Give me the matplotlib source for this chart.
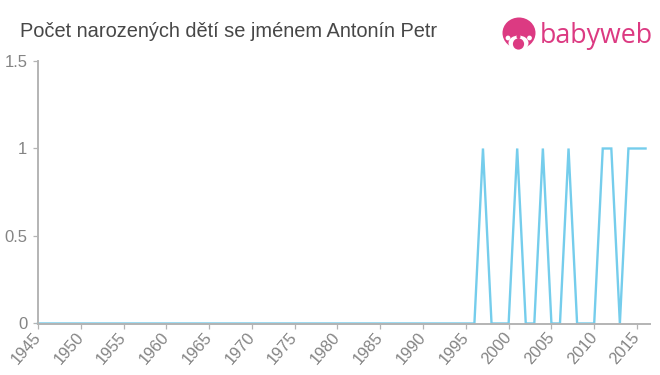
import matplotlib
matplotlib.use("Agg")
import matplotlib.pyplot as plt
from matplotlib.patches import Circle, Ellipse

years = list(range(1945, 2017))
nonzero_years = [1997, 2001, 2004, 2007, 2011, 2012, 2014, 2015, 2016]
counts = [1 if y in nonzero_years else 0 for y in years]
xticks = list(range(1945, 2016, 5))
yticks = [0, 0.5, 1, 1.5]
ylabels = ["0", "0.5", "1", "1.5"]
title = "Počet narozených dětí se jménem Antonín Petr"

plt.rcParams["font.family"] = ["Liberation Sans", "DejaVu Sans"]
W, H = 660, 375
fig = plt.figure(figsize=(W / 100, H / 100), dpi=100, facecolor="white")
L, R, T, B = 38, 650, 61, 324
ax = fig.add_axes([L / W, 1 - B / H, (R - L) / W, (B - T) / H])
ax.plot(years, counts, color="#75cdec", lw=1.7, solid_joinstyle="miter", clip_on=False, zorder=2)
ax.set_xlim(1945, 1945 + (R - L) / 8.557)
ax.set_ylim(-0.003, 1.5)
for s in ("top", "right"):
    ax.spines[s].set_visible(False)
for s in ("left", "bottom"):
    ax.spines[s].set_color("#b4b4b4")
    ax.spines[s].set_linewidth(1.4)
    ax.spines[s].set_zorder(5)
ax.set_xticks(xticks)
ax.set_xticklabels([str(x) for x in xticks], rotation=49, ha="right", va="center", rotation_mode="anchor")
ax.set_yticks(yticks)
ax.set_yticklabels(ylabels)
ax.tick_params(axis="x", length=3.6, width=0.9, color="#b4b4b4", labelcolor="#848484", labelsize=11.8, pad=4)
ax.tick_params(axis="y", length=3.6, width=0.9, color="#b4b4b4", labelcolor="#848484", labelsize=12, pad=4)

fig.text(20 / W, 1 - 31.5 / H, title, fontsize=14.37, color="#474747", va="center", ha="left")

# Logo
pink = "#dc3a82"
lax = fig.add_axes([0, 0, 1, 1], facecolor="none")
lax.set_xlim(0, W)
lax.set_ylim(H, 0)
lax.axis("off")
lax.add_patch(Ellipse((519, 33), 33, 31, color=pink, lw=0))
lax.add_patch(Ellipse((518.5, 43), 20, 15, color="white", lw=0))
lax.add_patch(Circle((508, 38), 2.4, color="white", lw=0))
lax.add_patch(Circle((529.5, 38), 2.4, color="white", lw=0))
lax.add_patch(Ellipse((518.5, 36.5), 4, 5, color=pink, lw=0))
lax.add_patch(Circle((518.5, 44), 5.6, color=pink, lw=0))
lax.text(540, 36, "babyweb", fontsize=19.3, color=pink, family="Open Sans", va="center", ha="left")

fig.savefig("out.png", dpi=100)
